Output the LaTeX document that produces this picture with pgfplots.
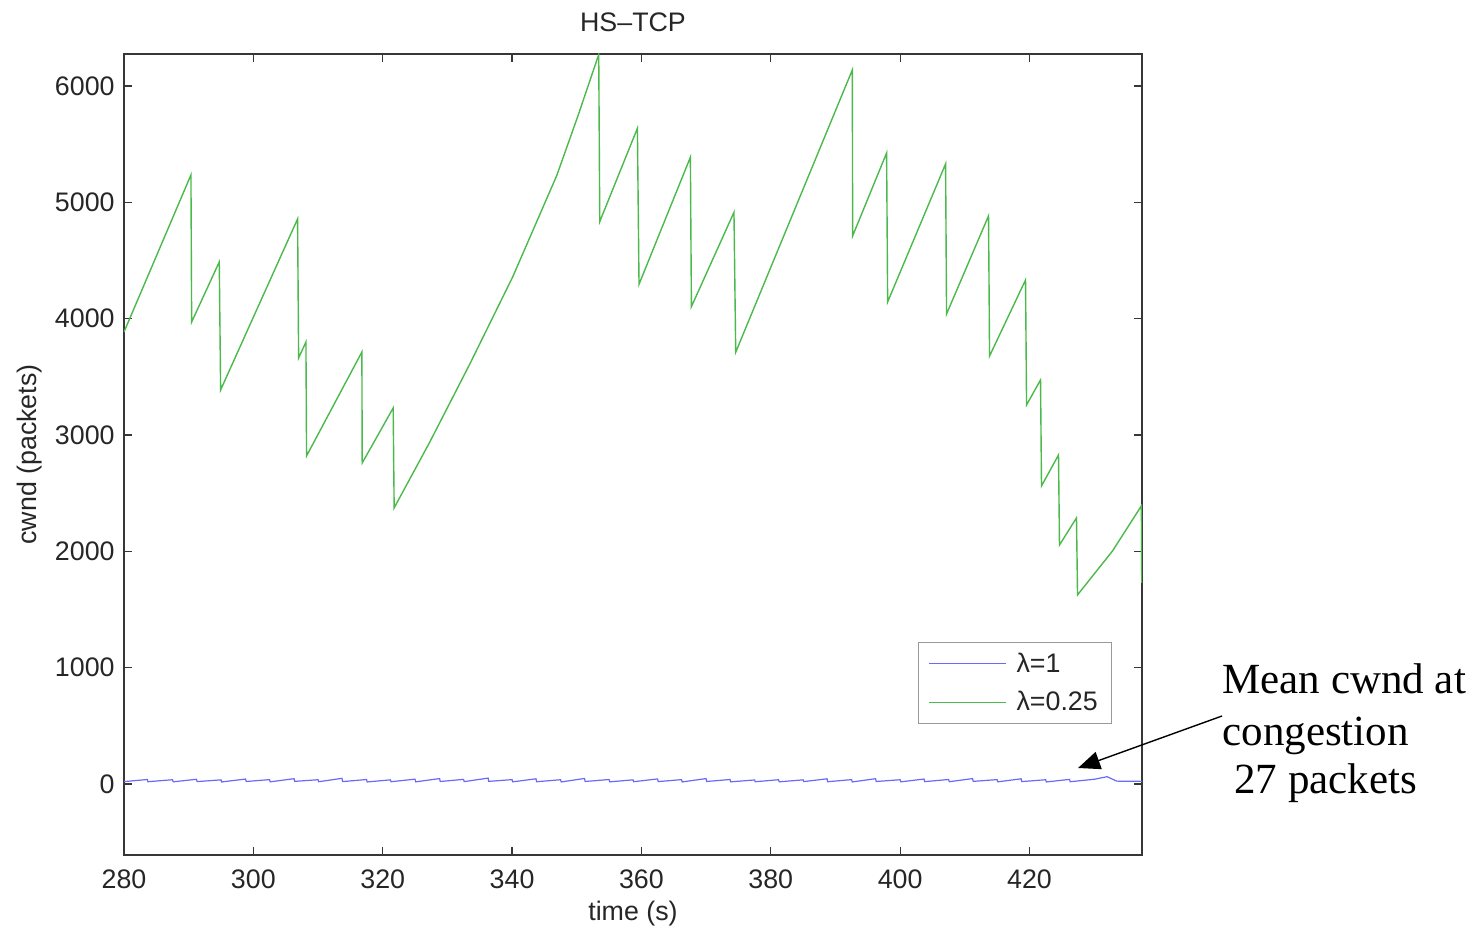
\documentclass[border=0pt]{standalone}
\usepackage{fontspec}
\setmainfont{Liberation Sans}
\newfontfamily\notefont{Liberation Serif}
\usepackage{pgfplots}
\pgfplotsset{compat=1.18}
\usetikzlibrary{arrows.meta}

\definecolor{cwndgreen}{RGB}{75,185,75}
\definecolor{cwndblue}{RGB}{105,105,250}
\definecolor{framegray}{RGB}{55,55,55}

% congestion window, lambda = 0.25
\pgfplotstableread{
t      w
280.00 3885
290.35 5235
290.46 3971
294.73 4487
294.94 3387
306.84 4857
307.00 3662
308.13 3799
308.23 2820
316.78 3713
316.83 2759
321.62 3232
321.77 2373
327.29 2940
333.47 3610
340.11 4360
346.91 5230
350.20 5745
353.40 6270
353.56 4834
359.38 5636
359.63 4295
367.57 5387
367.73 4103
374.31 4914
374.58 3711
392.61 6138
392.66 4711
397.91 5424
398.07 4143
407.03 5330
407.18 4040
413.67 4883
413.83 3679
419.39 4332
419.55 3258
421.71 3473
421.86 2562
424.49 2828
424.64 2054
427.27 2287
427.43 1625
432.84 2003
437.30 2390
437.36 1728
}\lambdaquarter

% congestion window, lambda = 1
\pgfplotstableread{
t     w
280.0 20
283.6 38
283.7 19
287.5 36
287.6 18
291.2 40
291.3 20
295.0 35
295.1 17
298.8 42
298.9 21
302.5 37
302.6 18
306.3 45
306.4 22
310.0 36
310.1 19
313.7 48
313.8 20
317.5 38
317.6 17
321.2 35
321.3 19
325.0 41
325.1 18
328.8 46
328.9 21
332.5 39
332.6 20
336.3 50
336.4 22
340.0 37
340.1 18
343.7 44
343.8 19
347.5 36
347.6 17
351.2 47
351.3 21
355.0 38
355.1 18
358.7 35
358.8 19
362.5 43
362.6 20
366.2 37
366.3 17
370.0 46
370.1 21
373.7 38
373.8 18
377.5 34
377.6 19
381.2 36
381.3 18
385.0 35
385.1 20
388.7 44
388.8 19
392.5 37
392.6 17
396.2 45
396.3 21
400.0 36
400.1 18
403.7 42
403.8 20
407.5 38
407.6 19
411.2 46
411.3 22
415.0 37
415.1 18
418.7 44
418.8 20
422.5 36
422.6 17
426.2 39
426.3 19
430.0 40
432.0 62
433.5 24
437.4 22
}\lambdaone

\begin{document}
\begin{tikzpicture}
\path[use as bounding box] (-62pt,-35.5pt) rectangle (678.5pt,427.5pt);
\begin{axis}[
  scale only axis,
  width=509pt, height=400.5pt,
  at={(0pt,0pt)}, anchor=south west,
  xmin=280, xmax=437.4,
  ymin=-611, ymax=6275,
  xtick={280,300,...,420},
  ytick={0,1000,...,6000},
  scaled x ticks=false, scaled y ticks=false,
  /pgf/number format/1000 sep={},
  /pgf/number format/assume math mode=true,
  tick align=inside,
  xtick pos=both, ytick pos=both,
  major tick length=4pt,
  axis line style={framegray, line width=0.7pt},
  every tick/.style={framegray, line width=0.6pt},
  tick label style={font=\fontsize{13.4}{16}\selectfont, text=black!85},
  xticklabel style={anchor=north, inner sep=0pt, yshift=-7pt},
  yticklabel style={anchor=east, inner sep=0pt, xshift=-4.5pt},
  label style={font=\fontsize{13.4}{16}\selectfont, text=black!85},
  xlabel={time (s)},
  xlabel style={at={(axis description cs:0.5,-0.073)}, anchor=center},
  ylabel={cwnd (packets)},
  ylabel style={at={(axis description cs:-0.0923,0.5)}, anchor=center},
  title={HS–TCP},
  title style={at={(axis description cs:0.5,1.025)}, anchor=center,
               yshift=0pt, font=\fontsize{13.4}{16}\selectfont, text=black!85},
  legend style={at={(0.9705,0.1635)}, anchor=south east,
                draw=gray!80, fill=white, line width=0.6pt,
                font=\fontsize{13.4}{16}\selectfont, text=black!85,
                inner xsep=4.8pt, inner ysep=3pt, row sep=4pt,
                column sep=3pt, nodes={inner sep=2pt}},
  legend cell align=left,
  legend image code/.code={\draw[#1] (0pt,0pt) -- (38.5pt,0pt);},
]
\addlegendimage{draw=cwndblue, line width=0.6pt}
\addlegendentry{λ=1}
\addlegendimage{draw=cwndgreen, line width=0.7pt}
\addlegendentry{λ=0.25}
\addplot[color=cwndblue, line width=0.6pt, forget plot] table[x=t, y=w] {\lambdaone};
\addplot[color=cwndgreen, line width=0.7pt, forget plot] table[x=t, y=w] {\lambdaquarter};
\end{axis}

% note on the mean window of the lambda = 1 flow
\draw[-{Triangle[length=11pt,width=9pt]}, line width=0.7pt] (549pt,69.5pt) -- (477pt,43.5pt);
\begin{scope}[every node/.style={anchor=base west, inner sep=0pt,
    font=\notefont\fontsize{21.5}{25}\selectfont}]
\node at (549pt,81pt) {Mean cwnd at};
\node at (549pt,55pt) {congestion};
\node at (555pt,31pt) {27 packets};
\end{scope}
\end{tikzpicture}
\end{document}
